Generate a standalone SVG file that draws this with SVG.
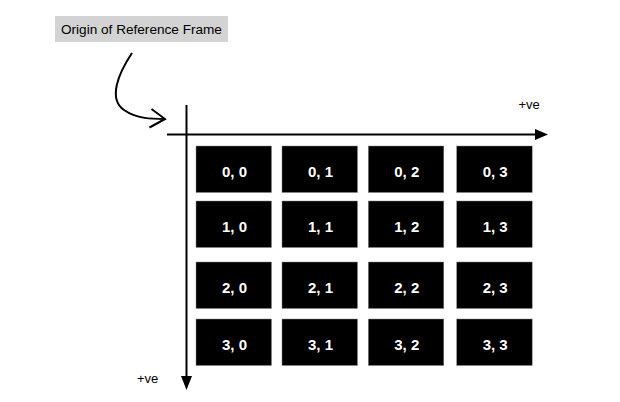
<svg xmlns="http://www.w3.org/2000/svg" width="620" height="402" viewBox="0 0 620 402">
<defs>
<style>
.cell rect{fill:#000;stroke:#888;stroke-width:0.5}
.cell text{fill:#fff;font-family:"Liberation Sans",Arial,sans-serif;font-weight:bold;font-size:15px;text-anchor:middle}
.lbl{font-family:"Liberation Sans",Arial,sans-serif;font-size:13px;fill:#000}
.ax{stroke:#000;stroke-width:2;fill:none}
</style>
</defs>
<rect width="620" height="402" fill="#fff"/>
<g id="origin-label">
<rect x="55" y="16" width="173" height="26" fill="#d3d3d3"/>
<text class="lbl" x="61" y="34" style="font-size:13.6px">Origin of Reference Frame</text>
</g>
<g id="connectors">
<path class="ax" d="M132,53 C118,74 108,99 124,110 C137,119 152,119 165,119"/>
<path class="ax" d="M151.5,109 L165,119 L149.5,127.5"/>
<line class="ax" x1="186.5" y1="105" x2="186.5" y2="377"/>
<polygon points="181,376 192,376 186.5,390" fill="#000"/>
<line class="ax" x1="167" y1="134.5" x2="536" y2="134.5"/>
<polygon points="535,129 535,140 548,134.5" fill="#000"/>
</g>
<g id="axis-labels">
<text class="lbl" x="518.5" y="109">+ve</text>
<text class="lbl" x="137" y="382.5">+ve</text>
</g>
<g id="c00" class="cell"><rect x="196" y="146" width="75.5" height="46.5"/><text x="234.5" y="176.5">0, 0</text></g>
<g id="c01" class="cell"><rect x="282" y="146" width="75.5" height="46.5"/><text x="320.5" y="176.5">0, 1</text></g>
<g id="c02" class="cell"><rect x="368.3" y="146" width="75.5" height="46.5"/><text x="406.8" y="176.5">0, 2</text></g>
<g id="c03" class="cell"><rect x="456.7" y="146" width="75.5" height="46.5"/><text x="495.2" y="176.5">0, 3</text></g>
<g id="c10" class="cell"><rect x="196" y="201" width="75.5" height="46.5"/><text x="234.5" y="231.5">1, 0</text></g>
<g id="c11" class="cell"><rect x="282" y="201" width="75.5" height="46.5"/><text x="320.5" y="231.5">1, 1</text></g>
<g id="c12" class="cell"><rect x="368.3" y="201" width="75.5" height="46.5"/><text x="406.8" y="231.5">1, 2</text></g>
<g id="c13" class="cell"><rect x="456.7" y="201" width="75.5" height="46.5"/><text x="495.2" y="231.5">1, 3</text></g>
<g id="c20" class="cell"><rect x="196" y="262" width="75.5" height="46.5"/><text x="234.5" y="292.5">2, 0</text></g>
<g id="c21" class="cell"><rect x="282" y="262" width="75.5" height="46.5"/><text x="320.5" y="292.5">2, 1</text></g>
<g id="c22" class="cell"><rect x="368.3" y="262" width="75.5" height="46.5"/><text x="406.8" y="292.5">2, 2</text></g>
<g id="c23" class="cell"><rect x="456.7" y="262" width="75.5" height="46.5"/><text x="495.2" y="292.5">2, 3</text></g>
<g id="c30" class="cell"><rect x="196" y="319" width="75.5" height="46.5"/><text x="234.5" y="349.5">3, 0</text></g>
<g id="c31" class="cell"><rect x="282" y="319" width="75.5" height="46.5"/><text x="320.5" y="349.5">3, 1</text></g>
<g id="c32" class="cell"><rect x="368.3" y="319" width="75.5" height="46.5"/><text x="406.8" y="349.5">3, 2</text></g>
<g id="c33" class="cell"><rect x="456.7" y="319" width="75.5" height="46.5"/><text x="495.2" y="349.5">3, 3</text></g>
</svg>
